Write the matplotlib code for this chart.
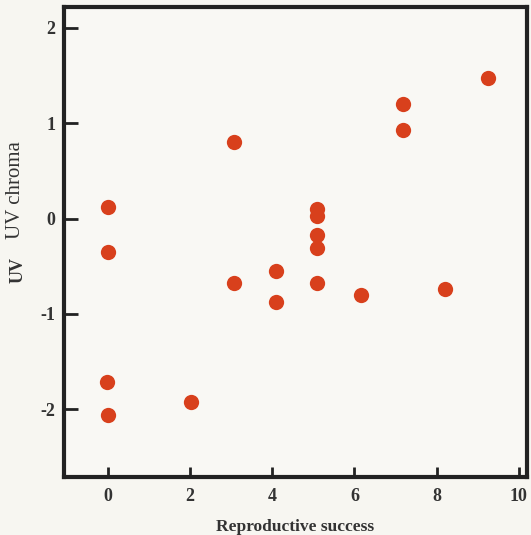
import matplotlib.pyplot as plt

# reproductive success vs UV chroma
success = [0.0, 0.0, -0.02, 0.0, 2.02, 3.07, 3.07, 4.1, 4.1, 5.1, 5.1, 5.1, 5.1, 5.1, 6.15, 7.18, 7.18, 8.2, 9.25]
uv_chroma = [0.12, -0.35, -1.71, -2.06, -1.92, 0.80, -0.67, -0.55, -0.87,
             0.10, 0.03, -0.17, -0.31, -0.68, -0.80, 1.20, 0.93, -0.74, 1.47]

xticks = [0, 2, 4, 6, 8, 10]
yticks = [-2, -1, 0, 1, 2]

plt.rcParams['font.family'] = ['Liberation Serif', 'DejaVu Serif']

fig = plt.figure(figsize=(5.31, 5.35), dpi=100)
fig.patch.set_facecolor('#f7f6f1')
ax = fig.add_axes([0.1205, 0.1084, 0.872, 0.8786])
ax.set_facecolor('#f9f8f4')

ax.plot(success, uv_chroma, 'o', color='#d8401c', markersize=11,
        markeredgewidth=0, linestyle='none')

ax.set_xlim(-1.07, 10.2)
ax.set_ylim(-2.71, 2.22)
ax.set_xticks(xticks)
ax.set_yticks(yticks)
ax.set_xticklabels([str(t) for t in xticks], fontsize=13, fontweight='bold', color='#333333')
ax.set_yticklabels([str(t) for t in yticks], fontsize=13, fontweight='bold', color='#333333')
ax.tick_params(axis='y', direction='in', length=10, width=2, color='#222222', pad=6)
ax.tick_params(axis='x', direction='in', length=7, width=2, color='#222222', pad=8)

for s in ax.spines.values():
    s.set_linewidth(3)
    s.set_color('#222222')

ax.set_xlabel('Reproductive success', fontsize=12.5, fontweight='bold', color='#333333', labelpad=10)
fig.text(0.03, 0.645, 'UV chroma', rotation=90, fontsize=15, color='#333333',
         ha='center', va='center')
fig.text(0.034, 0.495, 'UV', rotation=90, fontsize=13, fontweight='bold', color='#333333',
         ha='center', va='center')

fig.savefig('out.png', dpi=100, facecolor=fig.get_facecolor())
